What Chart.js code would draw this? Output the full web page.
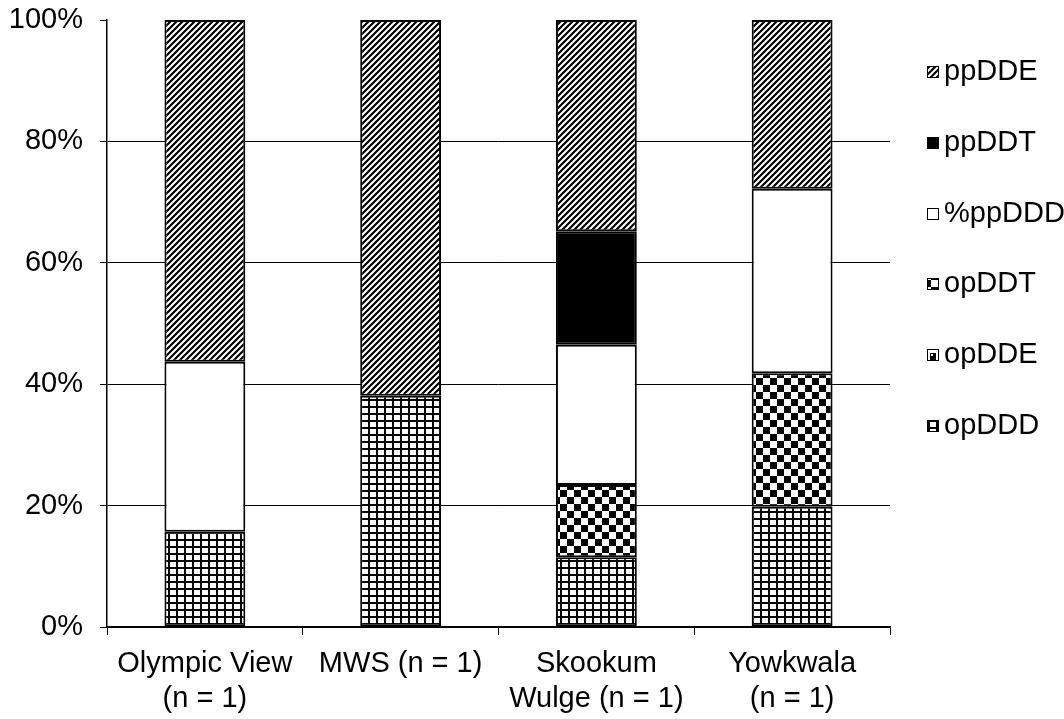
<!DOCTYPE html>
<html>
<head>
<meta charset="utf-8">
<script src="https://cdn.jsdelivr.net/npm/chart.js@4/dist/chart.umd.min.js"></script>
<style>
  html, body { margin: 0; padding: 0; background: #fff; }
  #wrap { width: 1064px; height: 719px; }
</style>
</head>
<body>
<div id="wrap"><canvas id="c" width="1064" height="719"></canvas></div>
<script>
// Sites along the x axis (multi-line labels)
const categories = [
  ['Olympic View', '(n = 1)'],
  'MWS (n = 1)',
  ['Skookum', 'Wulge (n = 1)'],
  ['Yowkwala', '(n = 1)']
];

// Percent composition per site, stacked bottom to top
const opDDD  = [15.7, 38.1, 11.5, 19.8];
const opDDE  = [0, 0, 0, 0];
const opDDT  = [0, 0, 11.9, 22.0];
const ppDDD  = [28.0, 0, 23.1, 30.4];
const ppDDT  = [0, 0, 18.7, 0];
const ppDDE  = [56.3, 61.9, 34.8, 27.8];

const yTicks = [0, 20, 40, 60, 80, 100];

const FONT = '"Liberation Sans", Arial, sans-serif';
const FONT_SIZE = 29;

// ---- fill patterns ----
function makeTile(w, h, draw) {
  const cv = document.createElement('canvas');
  cv.width = w; cv.height = h;
  const g = cv.getContext('2d');
  g.fillStyle = '#fff';
  g.fillRect(0, 0, w, h);
  g.fillStyle = '#000';
  g.strokeStyle = '#000';
  draw(g, w, h);
  return document.getElementById('c').getContext('2d').createPattern(cv, 'repeat');
}

const stripePattern = makeTile(6, 6, (g, w, h) => {
  g.lineWidth = 2.2;
  g.beginPath();
  g.moveTo(-1, h + 1); g.lineTo(w + 1, -1);
  g.moveTo(-1, 1); g.lineTo(1, -1);
  g.moveTo(w - 1, h + 1); g.lineTo(w + 1, h - 1);
  g.stroke();
});

const gridPattern = makeTile(8, 7, (g, w, h) => {
  g.fillRect(0, 0, w, 2);
  g.fillRect(0, 0, 2, h);
});

const checkerPattern = makeTile(14, 14, (g) => {
  g.fillRect(0, 0, 7, 7);
  g.fillRect(7, 7, 7, 7);
});

const cornerPattern = makeTile(12, 12, (g) => {
  g.fillRect(6, 5, 6, 7);
  g.fillStyle = '#fff';
  g.fillRect(7, 6, 2, 2);
});

const seriesDefs = [
  { label: 'opDDD',  data: opDDD, fill: gridPattern },
  { label: 'opDDE',  data: opDDE, fill: cornerPattern },
  { label: 'opDDT',  data: opDDT, fill: checkerPattern },
  { label: '%ppDDD', data: ppDDD, fill: '#ffffff' },
  { label: 'ppDDT',  data: ppDDT, fill: '#000000' },
  { label: 'ppDDE',  data: ppDDE, fill: stripePattern }
];

const datasets = seriesDefs.map(s => ({
  label: s.label,
  data: s.data,
  backgroundColor: s.fill,
  borderColor: '#000',
  borderWidth: ctx => (ctx.raw ? 2 : 0),
  borderSkipped: false,
  categoryPercentage: 1,
  barPercentage: 0.413
}));

// Legend on the right, listed top to bottom in reverse stack order
const sideLegend = {
  id: 'sideLegend',
  afterDraw(chart) {
    const ctx = chart.ctx;
    ctx.save();
    ctx.font = FONT_SIZE + 'px ' + FONT;
    ctx.textBaseline = 'middle';
    ctx.textAlign = 'left';
    const items = seriesDefs.slice().reverse();
    items.forEach((s, i) => {
      const cy = 72 + i * 70.8;
      const bx = 927, by = Math.round(cy - 6);
      ctx.fillStyle = s.fill;
      ctx.fillRect(bx, by, 12, 12);
      ctx.strokeStyle = '#000';
      ctx.lineWidth = 1;
      ctx.strokeRect(bx + 0.5, by + 0.5, 11, 11);
      ctx.fillStyle = '#000';
      ctx.fillText(s.label, 944, cy);
    });
    ctx.restore();
  }
};

new Chart(document.getElementById('c'), {
  type: 'bar',
  data: { labels: categories, datasets },
  options: {
    responsive: false,
    animation: false,
    devicePixelRatio: 1,
    layout: { padding: { left: 0, right: 174, top: 20, bottom: 0 } },
    plugins: {
      legend: { display: false },
      tooltip: { enabled: false }
    },
    scales: {
      x: {
        stacked: true,
        grid: {
          offset: true,
          drawOnChartArea: false,
          drawTicks: true,
          tickLength: 8,
          tickColor: '#000',
          color: '#000'
        },
        border: { color: '#000', width: 1.5 },
        ticks: {
          color: '#000',
          font: { family: FONT, size: FONT_SIZE, lineHeight: 1.22 },
          padding: 11,
          maxRotation: 0,
          autoSkip: false
        },
        afterFit(scale) {
          scale.height = 92;
          scale.paddingLeft = 0;
          scale.paddingRight = 0;
        }
      },
      y: {
        stacked: true,
        min: 0,
        max: 100,
        afterBuildTicks(scale) { scale.ticks = yTicks.map(v => ({ value: v })); },
        grid: {
          color: ctx => (ctx.tick && ctx.tick.value === 100 ? 'rgba(0,0,0,0)' : '#000'),
          tickColor: '#000',
          tickLength: 7,
          lineWidth: 1
        },
        border: { color: '#000', width: 1.5 },
        ticks: {
          color: '#000',
          font: { family: FONT, size: FONT_SIZE },
          padding: 17,
          callback: v => v + '%'
        },
        afterFit(scale) {
          scale.width = 107;
          scale.paddingTop = 0;
          scale.paddingBottom = 0;
        }
      }
    }
  },
  plugins: [sideLegend]
});
</script>
</body>
</html>
